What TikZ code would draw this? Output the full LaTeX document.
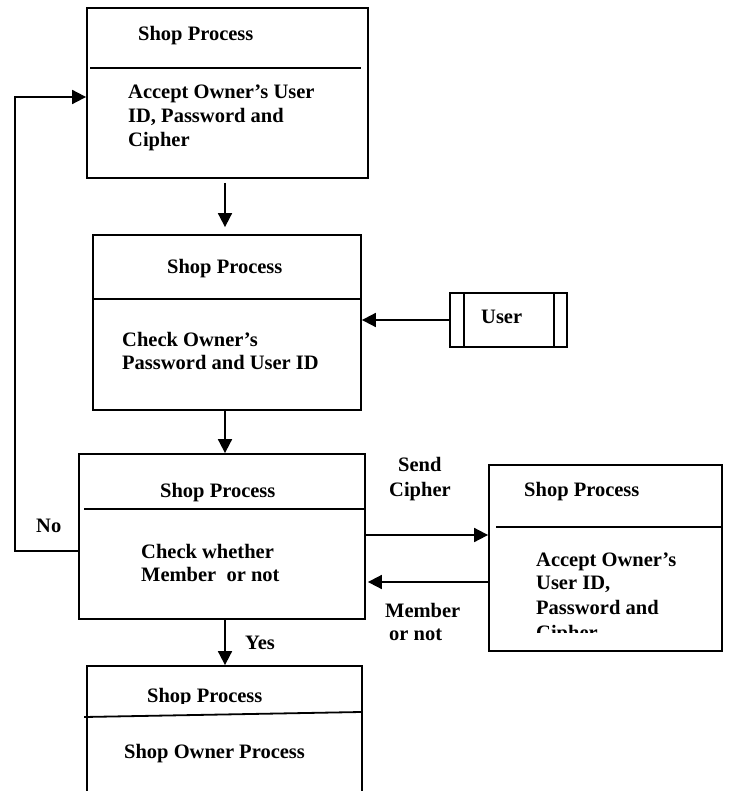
\documentclass[tikz,border=0pt]{standalone}
\usepackage{fontspec}
\setmainfont{Liberation Serif}
\usetikzlibrary{arrows.meta,calc}
\begin{document}
\begin{tikzpicture}[x=1pt,y=-1pt,
  box/.style={draw,line width=1.8pt,rectangle,inner sep=0pt},
  lbl/.style={anchor=base west,inner sep=0pt,font=\fontsize{20.5}{24}\selectfont\bfseries},
  divline/.style={line width=1.8pt},
  arr/.style={line width=1.8pt,-{Triangle[length=14pt,width=14pt]}},
  conn/.style={line width=1.8pt}]
\useasboundingbox (0,0) rectangle (731,791);
\clip (0,0) rectangle (731,791);
\fill[white] (0,0) rectangle (731,791);

% boxes
\node[box,minimum width=281pt,minimum height=170pt] (b1) at (227.5,93) {};
\node[box,minimum width=268pt,minimum height=175pt] (b2) at (227,322.5) {};
\node[box,minimum width=286pt,minimum height=165pt] (b3) at (222,536.5) {};
\node[box,minimum width=275pt,minimum height=154pt] (b4) at (224.5,743) {};
\node[box,minimum width=233pt,minimum height=186pt] (b5) at (605.5,558) {};
\node[box,minimum width=117pt,minimum height=54pt] (u) at (508.5,320) {};
\draw[divline] ($(u.north west)+(15,0)$) -- ($(u.south west)+(15,0)$);
\draw[divline] ($(u.north east)+(-14,0)$) -- ($(u.south east)+(-14,0)$);

% dividers
\coordinate (d1) at (0,68);
\coordinate (d2) at (0,299);
\coordinate (d3) at (0,509);
\coordinate (d5) at (0,527);
\draw[divline] ($(b1.west |- d1)+(4,0)$) -- ($(b1.east |- d1)+(-8,0)$);
\draw[divline] (b2.west |- d2) -- (b2.east |- d2);
\draw[divline] ($(b3.west |- d3)+(6,0)$) -- (b3.east |- d3);
\draw[divline] ($(b4.west)+(-2,-26)$) -- ($(b4.east)+(-2,-31)$);
\draw[divline] ($(b5.west |- d5)+(8,0)$) -- ($(b5.east |- d5)+(-2,0)$);

% texts
\node[lbl] (t1a) at (138,41) {Shop Process};
\node[lbl] (t1b) at (128,99) {Accept Owner’s User};
\node[lbl] (t1c) at (128,123) {ID, Password and};
\node[lbl] (t1d) at (128,147) {Cipher};

\node[lbl] (t2a) at (167,273) {Shop Process};
\node[lbl] (t2b) at (122,346) {Check Owner’s};
\node[lbl] (t2c) at (122,369) {Password and User ID};

\node[lbl] (tu) at (481,323) {User};

\node[lbl] (t3a) at (160,497) {Shop Process};
\node[lbl] (t3b) at (141,558) {Check whether};
\node[lbl] (t3c) at (141,581) {Member~ or not};

\begin{scope}
\clip (0,0) rectangle (731,703);
\node[lbl] (t4a) at (147,702) {Shop Process};
\end{scope}
\node[lbl] (t4b) at (124,758) {Shop Owner Process};

\node[lbl] (t5a) at (524,496) {Shop Process};
\node[lbl] (t5b) at (536,566) {Accept Owner’s};
\node[lbl] (t5c) at (536,589) {User ID,};
\node[lbl] (t5d) at (536,614) {Password and};
\begin{scope}
\clip (0,0) rectangle (731,632);
\node[lbl] (t5e) at (536,639) {Cipher};
\end{scope}

\node[lbl] (tsend) at (398,471) {Send};
\node[lbl] (tciph) at (389,496) {Cipher};
\node[lbl] (tmem) at (385,617) {Member};
\node[lbl] (tornot) at (389,640) {or not};
\node[lbl] (tno) at (36,532) {No};
\node[lbl] (tyes) at (245,649) {Yes};

% connectors
\coordinate (ax) at (225,0);
\coordinate (ys) at (0,535);
\coordinate (ym) at (0,582);
\coordinate (yn) at (0,551);
\coordinate (yt) at (0,97);
\coordinate (xl) at (15,0);
\draw[arr,shorten <=4pt,shorten >=7pt] (ax |- b1.south) -- (ax |- b2.north);
\draw[arr] (ax |- b2.south) -- (ax |- b3.north);
\draw[arr] (ax |- b3.south) -- (ax |- b4.north);
\draw[arr] (u.west) -- (u.west -| b2.east);
\draw[arr] (b3.east |- ys) -- (b5.west |- ys);
\draw[arr,shorten >=2pt] (b5.west |- ym) -- (b3.east |- ym);
\draw[arr] (b3.west |- yn) -- (xl |- yn) -- (xl |- yt) -- (b1.west |- yt);
\end{tikzpicture}
\end{document}
